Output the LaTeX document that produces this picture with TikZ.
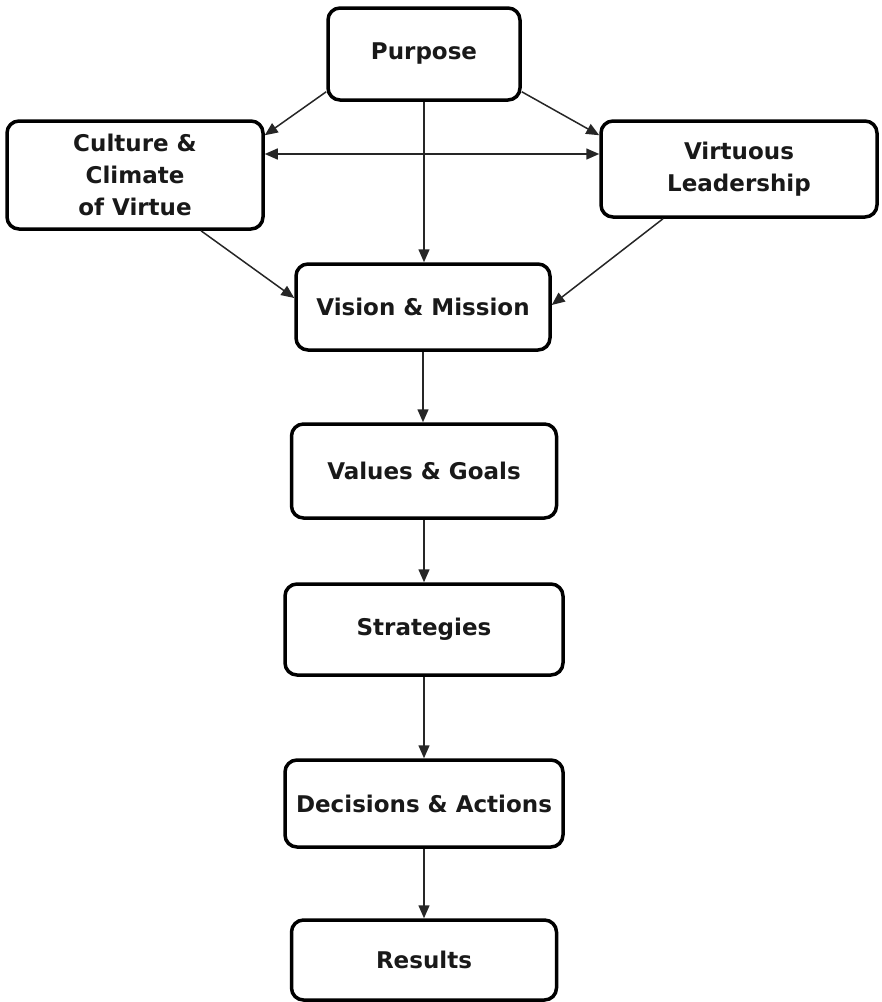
\documentclass[tikz,border=0pt]{standalone}
\usepackage{fontspec}
\setmainfont{DejaVu Sans}
\usetikzlibrary{arrows.meta,calc}
\tikzset{
  box/.style={draw=black, line width=3.5pt, rounded corners=12pt, align=center, inner sep=0pt,
    font=\fontsize{23}{32}\selectfont\bfseries, text=black!90},
  arr/.style={line width=1.5pt, draw=black!85, -{Triangle[length=13pt,width=11pt]}},
  darr/.style={line width=1.5pt, draw=black!85, {Triangle[length=13pt,width=11pt]}-{Triangle[length=13pt,width=11pt]}}
}
\begin{document}
\begin{tikzpicture}[x=1pt,y=-1pt]
\useasboundingbox (0,0) rectangle (882,1002);
\node[box, minimum width=192pt, minimum height=92pt] (pur) at (424,54) {Purpose};
\node[box, minimum width=256pt, minimum height=108pt] (cul) at (135,175) {Culture \&\\Climate\\of Virtue};
\node[box, minimum width=276pt, minimum height=96pt] (vir) at (739,169) {Virtuous\\Leadership};
\node[box, minimum width=254pt, minimum height=86pt] (vis) at (423,307) {Vision \& Mission};
\node[box, minimum width=265pt, minimum height=94pt] (val) at (424,471) {Values \& Goals};
\node[box, minimum width=278pt, minimum height=91pt] (str) at (424,629.5) {Strategies};
\node[box, minimum width=278pt, minimum height=87pt] (dec) at (424,803.5) {Decisions \& Actions};
\node[box, minimum width=265pt, minimum height=80pt] (res) at (424,960) {Results};
\coordinate (lvl) at (0,154);
\draw[arr] ([yshift=10pt]pur.south west) -- ([yshift=-16pt]cul.north east);
\draw[arr] ([yshift=10pt]pur.south east) -- ([yshift=-16pt]vir.north west);
\draw[darr] (cul.east |- lvl) -- (vir.west |- lvl);
\draw[arr] (pur.south) -- (pur.south |- vis.north);
\draw[arr] ([xshift=66pt]cul.south) -- ([yshift=9pt]vis.west);
\draw[arr] ([xshift=-76pt]vir.south) -- ([yshift=2pt]vis.east);
\draw[arr] (vis.south) -- (vis.south |- val.north);
\draw[arr] (val.south) -- (val.south |- str.north);
\draw[arr] (str.south) -- (str.south |- dec.north);
\draw[arr] (dec.south) -- (dec.south |- res.north);
\end{tikzpicture}
\end{document}
